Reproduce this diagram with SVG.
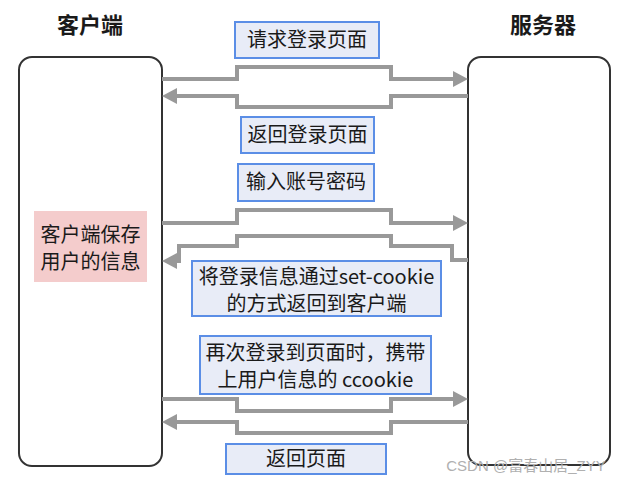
<svg xmlns="http://www.w3.org/2000/svg" width="622" height="481" viewBox="0 0 622 481">
<style>
text{font-family:"Noto Sans CJK SC","Microsoft YaHei",sans-serif;fill:#1a1a1a;text-anchor:middle}
.title{font-size:22px;font-weight:bold}
.lbl{font-size:20px}
.big{fill:#fff;stroke:#333;stroke-width:2}
.lab{fill:#e8ecf7;stroke:#5b8ee6;stroke-width:2}
.conn polyline{fill:none;stroke:#999;stroke-width:4;marker-end:url(#ah)}
.wm{font-size:15px;fill:#b0b0b0;font-family:"Liberation Sans","Noto Sans CJK SC",sans-serif}
</style>
<defs>
<marker id="ah" markerUnits="userSpaceOnUse" markerWidth="15" markerHeight="16" viewBox="0 0 15 16" refX="1" refY="8" orient="auto">
<path d="M0,0 L15,8 L0,16 z" fill="#999"/>
</marker>
</defs>
<rect width="622" height="481" fill="#fff"/>
<g id="client">
<rect class="big" x="19" y="57" width="143" height="409" rx="13"/>
<text class="title" x="90" y="33">客户端</text>
</g>
<g id="server">
<rect class="big" x="468" y="57" width="142" height="408" rx="13"/>
<text class="title" x="543" y="33">服务器</text>
</g>
<g id="store">
<rect x="34" y="211" width="113" height="71" fill="#f4cccc"/>
<text class="lbl" x="90.5" y="242">客户端保存</text>
<text class="lbl" x="90.5" y="269">用户的信息</text>
</g>
<g class="conn" id="connectors">
<polyline points="162,79 237,79 237,67 391,67 391,79 454,79"/>
<polyline points="468,96 391,96 391,107 237,107 237,96 176,96"/>
<polyline points="162,223 237,223 237,210 391,210 391,223 454,223"/>
<polyline points="468,260 452,260 452,246 391,246 391,236 237,236 237,246 179,246 179,261 176,261"/>
<polyline points="162,399 237,399 237,411 391,411 391,399 454,399"/>
<polyline points="468,422 391,422 391,433 237,433 237,422 176,422"/>
</g>
<g id="l1">
<rect class="lab" x="235" y="22" width="144" height="36"/>
<text class="lbl" x="307" y="47">请求登录页面</text>
</g>
<g id="l2">
<rect class="lab" x="241" y="117" width="133" height="36"/>
<text class="lbl" x="307.5" y="142">返回登录页面</text>
</g>
<g id="l3">
<rect class="lab" x="238" y="164" width="136" height="37"/>
<text class="lbl" x="306" y="189">输入账号密码</text>
</g>
<g id="l4">
<rect class="lab" x="192" y="261" width="249" height="55"/>
<text class="lbl" x="316.5" y="284">将登录信息通过set-cookie</text>
<text class="lbl" x="316.5" y="311">的方式返回到客户端</text>
</g>
<g id="l5">
<rect class="lab" x="200" y="336" width="231" height="58"/>
<text class="lbl" x="315.5" y="360">再次登录到页面时，携带</text>
<text class="lbl" x="315.5" y="387">上用户信息的 ccookie</text>
</g>
<g id="l6">
<rect class="lab" x="226" y="444" width="160" height="30"/>
<text class="lbl" x="306" y="466">返回页面</text>
</g>
<text class="wm" x="526" y="471">CSDN @富春山居_ZYY</text>
</svg>
